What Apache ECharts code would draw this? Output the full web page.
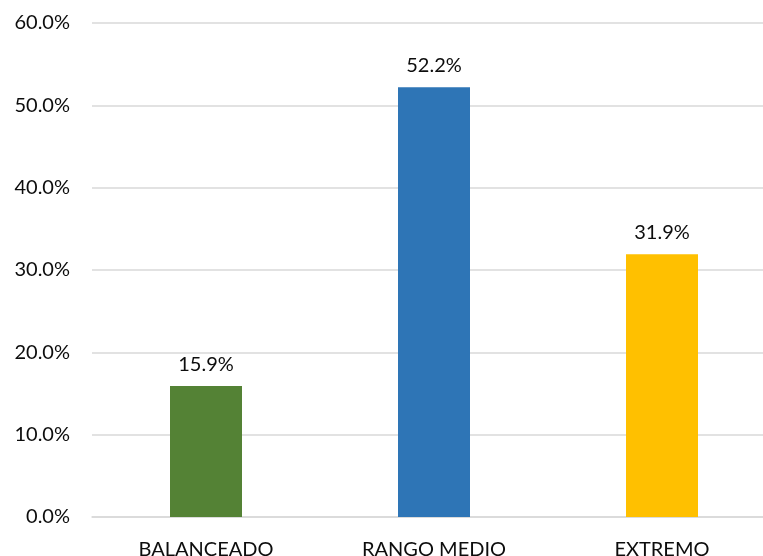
<!DOCTYPE html>
<html>
<head>
<meta charset="utf-8">
<script src="https://cdn.jsdelivr.net/npm/echarts@6/dist/echarts.min.js"></script>
<style>html,body{margin:0;padding:0;background:#fff;overflow:hidden;width:763px;height:556px}#c{width:780px;height:556px}</style>
</head>
<body>
<div id="c"></div>
<script>
const categories = ['BALANCEADO', 'RANGO MEDIO', 'EXTREMO'];
const values = [15.9, 52.2, 31.9];
const barColors = ['#548235', '#2E75B6', '#FFC000'];
const yTicks = [0, 10, 20, 30, 40, 50, 60];

const font = 'Lato';
const chart = echarts.init(document.getElementById('c'));
chart.setOption({
  animation: false,
  grid: { left: 92, right: 4, top: 23, bottom: 39, containLabel: false, outerBoundsMode: 'none' },
  xAxis: {
    type: 'category',
    data: categories,
    axisLine: { lineStyle: { color: '#D9D9D9', width: 1.5 } },
    axisTick: { show: false },
    axisLabel: { color: '#0d0d0d', fontFamily: font, fontSize: 20, margin: 23 }
  },
  yAxis: {
    type: 'value',
    min: yTicks[0],
    max: yTicks[yTicks.length - 1],
    interval: 10,
    axisLine: { show: false },
    axisTick: { show: false },
    splitLine: { lineStyle: { color: '#D9D9D9', width: 1.5 } },
    axisLabel: { color: '#0d0d0d', fontFamily: font, fontSize: 20, margin: 22, formatter: v => v.toFixed(1) + '%' }
  },
  series: [{
    type: 'bar',
    barWidth: 72,
    data: values.map((v, i) => ({ value: v, itemStyle: { color: barColors[i] } })),
    label: { show: true, position: 'top', distance: 12, color: '#0d0d0d', fontFamily: font, fontSize: 20, formatter: p => p.value.toFixed(1) + '%' }
  }]
});
</script>
</body>
</html>
